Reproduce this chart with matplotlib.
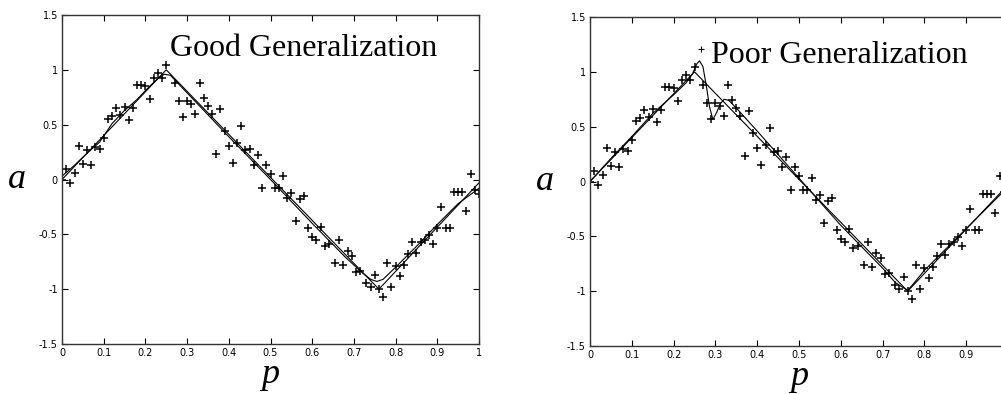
import numpy as np
import matplotlib
matplotlib.use('Agg')
import matplotlib.pyplot as plt

plt.rcParams.update({'font.size': 7, 'axes.unicode_minus': False})

# noisy training samples (same in both panels)
p_data = [0.00, 0.01, 0.02, 0.03, 0.04, 0.05, 0.06, 0.07, 0.08, 0.09,
          0.10, 0.11, 0.12, 0.13, 0.14, 0.15, 0.16, 0.17, 0.18, 0.19,
          0.20, 0.21, 0.22, 0.23, 0.24, 0.25, 0.27, 0.28, 0.29, 0.30,
          0.31, 0.32, 0.33, 0.34, 0.35, 0.36, 0.37, 0.38, 0.39, 0.40,
          0.41, 0.42, 0.43, 0.44, 0.45, 0.46, 0.47, 0.48, 0.49, 0.50,
          0.51, 0.52, 0.53, 0.54, 0.55, 0.56, 0.57, 0.58, 0.59, 0.60,
          0.61, 0.62, 0.63, 0.64, 0.655, 0.665, 0.675, 0.685, 0.695, 0.705,
          0.715, 0.73, 0.74, 0.75, 0.76, 0.77, 0.78, 0.79, 0.80, 0.81,
          0.82, 0.83, 0.84, 0.85, 0.86, 0.87, 0.88, 0.89, 0.90, 0.91,
          0.92, 0.93, 0.94, 0.95, 0.96, 0.97, 0.98, 0.99, 1.00]
a_data = [0.00, 0.10, -0.03, 0.06, 0.31, 0.14, 0.27, 0.13, 0.30, 0.28,
          0.38, 0.55, 0.58, 0.65, 0.59, 0.66, 0.54, 0.65, 0.86, 0.86,
          0.85, 0.73, 0.93, 0.97, 0.93, 1.04, 0.88, 0.72, 0.57, 0.72,
          0.69, 0.60, 0.88, 0.74, 0.67, 0.60, 0.23, 0.64, 0.44, 0.31,
          0.15, 0.33, 0.49, 0.27, 0.28, 0.13, 0.22, -0.08, 0.13, 0.05,
          -0.08, -0.08, 0.03, -0.17, -0.12, -0.38, -0.18, -0.15, -0.44, -0.52,
          -0.55, -0.43, -0.61, -0.59, -0.76, -0.55, -0.78, -0.65, -0.70, -0.84,
          -0.83, -0.94, -0.98, -0.87, -1.00, -1.07, -0.76, -0.98, -0.79, -0.88,
          -0.78, -0.68, -0.57, -0.67, -0.57, -0.55, -0.51, -0.59, -0.44, -0.25,
          -0.44, -0.44, -0.11, -0.11, -0.11, -0.29, 0.05, -0.10, -0.13]

# extra outlier only in the poor generalization panel
p_outlier = [0.265]
a_outlier = [1.21]

# underlying function (triangle wave vertices)
p_true = [0.0, 0.25, 0.76, 1.0]
a_true = [0.0, 1.0, -1.0, -0.03]

# network response, good generalization
p_good = [0.0, 0.03, 0.06, 0.09, 0.12, 0.15, 0.18, 0.21, 0.23, 0.245,
          0.26, 0.28, 0.32, 0.40, 0.50, 0.60, 0.68, 0.72, 0.74, 0.755,
          0.77, 0.80, 0.85, 0.90, 0.95, 1.0]
a_good = [0.03, 0.13, 0.24, 0.34, 0.51, 0.63, 0.73, 0.85, 0.92, 0.96,
          0.95, 0.87, 0.71, 0.39, 0.00, -0.40, -0.71, -0.85, -0.91, -0.93,
          -0.91, -0.80, -0.61, -0.41, -0.22, -0.08]

# network response, poor generalization (overfit)
p_poor = [0.0, 0.05, 0.10, 0.15, 0.20, 0.23, 0.245, 0.255, 0.262, 0.27,
          0.278, 0.286, 0.294, 0.303, 0.312, 0.321, 0.332, 0.35, 0.40, 0.50,
          0.60, 0.70, 0.73, 0.75, 0.76, 0.77, 0.80, 0.90, 1.0]
a_poor = [0.0, 0.21, 0.41, 0.62, 0.79, 0.90, 0.98, 1.07, 1.10, 1.05,
          0.88, 0.68, 0.565, 0.63, 0.71, 0.75, 0.74, 0.67, 0.46, 0.03,
          -0.40, -0.79, -0.92, -0.97, -0.99, -0.95, -0.81, -0.43, -0.05]

x_ticks = np.arange(0, 1.01, 0.1)
x_labels = ['0', '0.1', '0.2', '0.3', '0.4', '0.5', '0.6', '0.7', '0.8', '0.9', '1']
y_ticks = [-1.5, -1, -0.5, 0, 0.5, 1, 1.5]
y_labels = ['-1.5', '-1', '-0.5', '0', '0.5', '1', '1.5']

serif = ['Liberation Serif', 'DejaVu Serif']

fig = plt.figure(figsize=(10.01, 3.94), dpi=100)
ax1 = fig.add_axes([62 / 1001, 50 / 394, 417 / 1001, 329 / 394])
ax2 = fig.add_axes([590 / 1001, 48 / 394, 418 / 1001, 329 / 394])

panels = [(ax1, p_good, a_good, 'Good Generalization', 0.26, 0.875, x_labels),
          (ax2, p_poor, a_poor, 'Poor Generalization', 0.29, 0.86, x_labels[:-1] + [''])]

for ax, pf, af, title, tx, ty, xl in panels:
  ax.plot(p_true, a_true, color='k', linewidth=0.8)
  ax.plot(pf, af, color='k', linewidth=0.8)
  ax.plot(p_data, a_data, linestyle='none', marker='+', color='k',
          markersize=6, markeredgewidth=1.1)
  ax.set_xlim(0, 1)
  ax.set_ylim(-1.5, 1.5)
  ax.set_xticks(x_ticks)
  ax.set_xticklabels(xl)
  ax.set_yticks(y_ticks)
  ax.set_yticklabels(y_labels)
  ax.tick_params(direction='in', top=True, right=True, length=4, width=0.8,
                 labelsize=7, pad=3)
  for s in ax.spines.values():
    s.set_linewidth(1.0)
    s.set_color('#333333')
  ax.text(tx, ty, title, transform=ax.transAxes, family=serif, fontsize=23,
          va='baseline', ha='left')
  ax.set_xlabel('p', fontsize=26, family=serif, style='italic', labelpad=0)
  ax.set_ylabel('a', fontsize=26, family=serif, style='italic', rotation=0,
                labelpad=16, va='center')

ax2.plot(p_outlier, a_outlier, linestyle='none', marker='+', color='k',
         markersize=5, markeredgewidth=0.8)

plt.savefig('out.png', dpi=100)
